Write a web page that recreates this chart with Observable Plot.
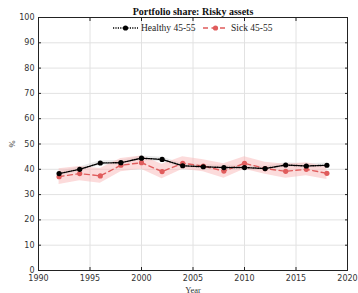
<!DOCTYPE html>
<html>
<head>
<meta charset="utf-8">
<script src="https://cdn.jsdelivr.net/npm/d3@7"></script>
<script src="https://cdn.jsdelivr.net/npm/@observablehq/plot@0.6"></script>
<style>
  html, body { margin: 0; padding: 0; background: #fff; }
  #wrap { position: relative; width: 358px; height: 293px; }
  g[aria-label="x-axis label"] text, g[aria-label="y-axis label"] text { font-family: "Liberation Serif", serif; font-size: 8.5px; fill: #333; }
  #legend { position: absolute; left: 0; top: 0; pointer-events: none; }
  #legend text { fill: #222; font-family: "Liberation Serif", serif; font-size: 9.5px; }
</style>
</head>
<body>
<div id="wrap"></div>
<script>
const years = [1992, 1994, 1996, 1998, 2000, 2002, 2004, 2006, 2008, 2010, 2012, 2014, 2016, 2018];
const healthy = [38.3, 40.0, 42.5, 42.6, 44.4, 43.9, 41.4, 41.0, 40.7, 40.7, 40.3, 41.7, 41.3, 41.6];
const healthyLo = [37.4, 39.1, 41.6, 41.7, 43.5, 43.0, 40.5, 40.1, 39.8, 39.8, 39.4, 40.8, 40.4, 40.7];
const healthyHi = [39.2, 40.9, 43.4, 43.5, 45.3, 44.8, 42.3, 41.9, 41.6, 41.6, 41.2, 42.6, 42.2, 42.5];
const sick = [37.1, 38.3, 37.4, 41.6, 42.6, 39.1, 42.4, 41.3, 39.3, 42.4, 40.3, 39.2, 40.0, 38.4];
const sickLo = [34.0, 35.5, 34.5, 39.0, 40.0, 36.3, 40.0, 39.0, 36.5, 40.0, 38.0, 36.5, 37.5, 36.0];
const sickHi = [40.2, 41.1, 40.3, 44.3, 45.3, 42.0, 45.0, 43.8, 42.2, 45.0, 42.8, 42.0, 42.6, 40.9];
const xTicks = [1990, 1995, 2000, 2005, 2010, 2015, 2020];
const yTicks = [0, 10, 20, 30, 40, 50, 60, 70, 80, 90, 100];
const title = "Portfolio share: Risky assets";
const seriesNames = ["Healthy 45-55", "Sick 45-55"];

const red = "#e05c5c";
const data = years.map((y, i) => ({
  year: y, h: healthy[i], hLo: healthyLo[i], hHi: healthyHi[i],
  s: sick[i], sLo: sickLo[i], sHi: sickHi[i]
}));

const W = 358, H = 293, mL = 38, mR = 11, mT = 17, mB = 23;

const chart = Plot.plot({
  width: W, height: H,
  marginLeft: mL, marginRight: mR, marginTop: mT, marginBottom: mB,
  style: { fontFamily: "DejaVu Sans, sans-serif", fontSize: "8px", color: "#333", background: "#fff" },
  x: { domain: [1990, 2020], ticks: xTicks, tickFormat: "d" },
  y: { domain: [0, 100], ticks: yTicks },
  marks: [
    Plot.gridX(xTicks, { stroke: "#e2e2e2", strokeOpacity: 1 }),
    Plot.gridY(yTicks, { stroke: "#e2e2e2", strokeOpacity: 1 }),
    Plot.areaY(data, { x: "year", y1: "hLo", y2: "hHi", fill: "#cfcfcf", fillOpacity: 0.45 }),
    Plot.areaY(data, { x: "year", y1: "sLo", y2: "sHi", fill: "#f9b8b8", fillOpacity: 0.5 }),
    Plot.line(data, { x: "year", y: "s", stroke: red, strokeWidth: 1.4, strokeDasharray: "5,3.5" }),
    Plot.dot(data, { x: "year", y: "s", r: 2.6, fill: red }),
    Plot.line(data, { x: "year", y: "h", stroke: "#000", strokeWidth: 1.4, strokeDasharray: "1.2,1.2" }),
    Plot.dot(data, { x: "year", y: "h", r: 2.6, fill: "#000" }),
    Plot.frame({ stroke: "#222", strokeWidth: 1 }),
    Plot.axisX(xTicks, { anchor: "bottom", tickSize: 0, tickPadding: 5, tickFormat: "d", label: "Year", labelAnchor: "center", labelArrow: "none", labelOffset: 22, fill: "#333" }),
    Plot.axisY(yTicks, { anchor: "left", tickSize: 0, tickPadding: 4, label: "%", labelAnchor: "center", labelArrow: "none", labelOffset: 30, fill: "#333" }),
    Plot.axisX(xTicks, { anchor: "bottom", tickSize: -3, tickFormat: () => "", label: null, stroke: "#222" }),
    Plot.axisX(xTicks, { anchor: "top", tickSize: -3, tickFormat: () => "", label: null, stroke: "#222" }),
    Plot.axisY(yTicks, { anchor: "left", tickSize: -3, tickFormat: () => "", label: null, stroke: "#222" }),
    Plot.axisY(yTicks, { anchor: "right", tickSize: -3, tickFormat: () => "", label: null, stroke: "#222" }),
    Plot.text([title], { frameAnchor: "top", dy: -10, text: d => d, fontFamily: "Liberation Serif, serif", fontWeight: "bold", fontSize: 10, fill: "#111" })
  ]
});
document.getElementById("wrap").appendChild(chart);

const lg = d3.select("#wrap").append("svg").attr("id", "legend").attr("width", W).attr("height", H);
const items = [
  { name: seriesNames[0], color: "#000", dash: "1.2,1.2", x: 113 },
  { name: seriesNames[1], color: red, dash: "5,3.5", x: 203 }
];
items.forEach(it => {
  const g = lg.append("g").attr("transform", `translate(${it.x},28)`);
  g.append("line").attr("x1", 0).attr("x2", 25).attr("y1", 0).attr("y2", 0)
    .attr("stroke", it.color).attr("stroke-width", 1.4).attr("stroke-dasharray", it.dash);
  g.append("circle").attr("cx", 12.5).attr("cy", 0).attr("r", 2.6).attr("fill", it.color);
  g.append("text").attr("x", 28).attr("y", 3.2).text(it.name);
});
</script>
</body>
</html>
